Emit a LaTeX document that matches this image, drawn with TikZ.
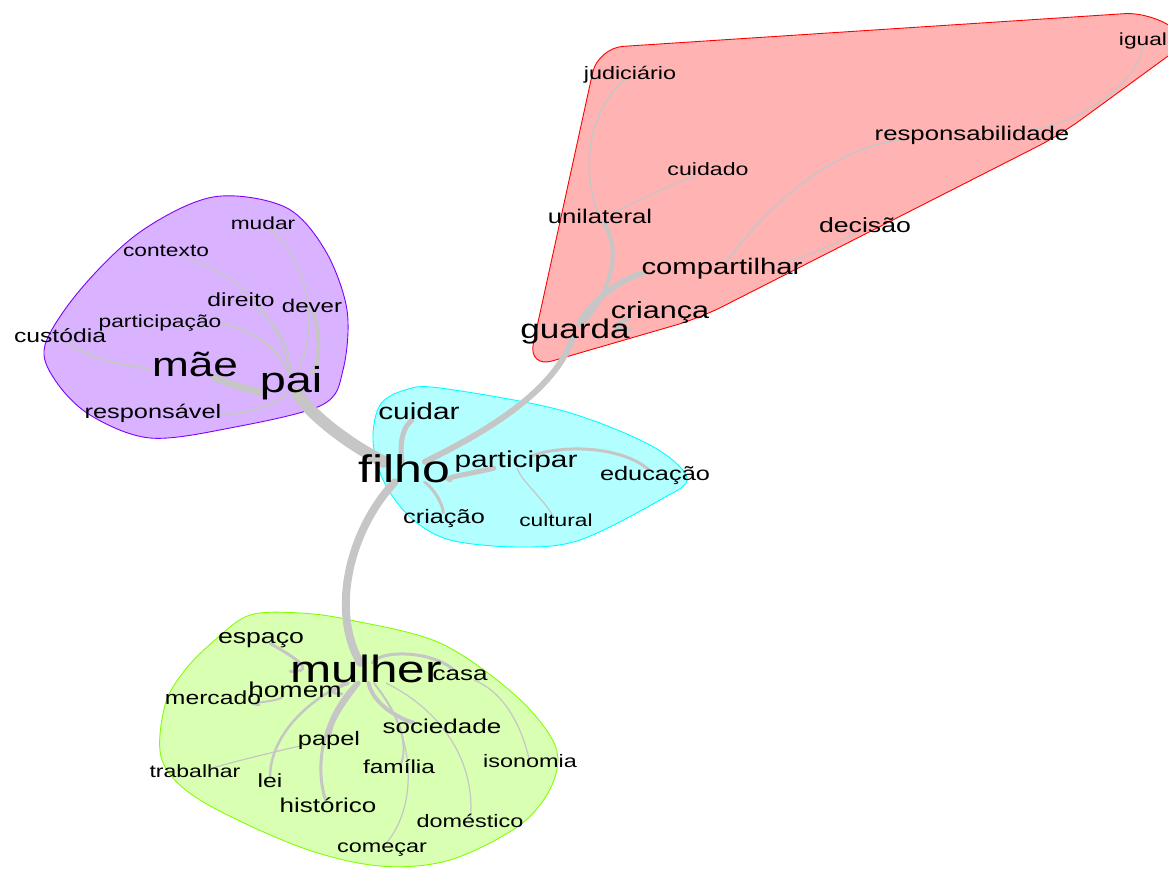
\documentclass[tikz,border=0pt]{standalone}
\usepackage{fontspec}
\setmainfont{Liberation Sans}
\pgfdeclarelayer{hull}
\pgfdeclarelayer{links}
\pgfsetlayers{hull,links,main}
\definecolor{linkgray}{RGB}{198,198,198}
\definecolor{redfill}{RGB}{255,179,179}
\definecolor{redline}{RGB}{255,0,0}
\definecolor{greenfill}{RGB}{217,255,179}
\definecolor{greenline}{RGB}{128,255,0}
\definecolor{cyanfill}{RGB}{179,255,255}
\definecolor{cyanline}{RGB}{0,255,255}
\definecolor{violetfill}{RGB}{217,179,255}
\definecolor{violetline}{RGB}{128,0,255}

\begin{document}
\begin{tikzpicture}[x=1pt,y=-1pt,
	wrd/.style={font=\fontsize{#1}{#1}\selectfont,xscale=1.3,inner sep=0pt,
		text height={0.52*#1pt},text depth=0pt,anchor=center},
	lk/.style={draw=linkgray,line width=#1,line cap=round},
	hull/.style={draw=#1line,fill=#1fill,line width=0.9pt}]
	\useasboundingbox (0,0) rectangle (1168,868);
	\clip (0,0) rectangle (1168,868);

	% pai / mae
	\node[wrd=17.5] (mudar) at (263,225) {mudar};
	\node[wrd=17.5] (contexto) at (166,252) {contexto};
	\node[wrd=19] (direito) at (241,302) {direito};
	\node[wrd=18.5] (dever) at (312,308) {dever};
	\node[wrd=17.5] (participacao) at (160,323) {participação};
	\node[wrd=19] (custodia) at (60,338) {custódia};
	\node[wrd=34] (mae) at (195,368) {mãe};
	\node[wrd=36] (pai) at (291,383) {pai};
	\node[wrd=19.5] (responsavel) at (153,413) {responsável};

	% filho
	\node[wrd=23] (cuidar) at (419,414) {cuidar};
	\node[wrd=38.5] (filho) at (404,472) {filho};
	\node[wrd=23] (participar) at (516,462) {participar};
	\node[wrd=19.5] (educacao) at (655,475) {educação};
	\node[wrd=19.5] (criacao) at (444,518) {criação};
	\node[wrd=17.5] (cultural) at (556,522) {cultural};

	% mulher
	\node[wrd=20.5] (espaco) at (261,638) {espaço};
	\node[wrd=38] (mulher) at (366,673) {mulher};
	\node[wrd=20] (casa) at (460,675) {casa};
	\node[wrd=21.5] (homem) at (295,692) {homem};
	\node[wrd=19] (mercado) at (213,700) {mercado};
	\node[wrd=20] (sociedade) at (442,728) {sociedade};
	\node[wrd=19.5] (papel) at (329,740) {papel};
	\node[wrd=18] (isonomia) at (530,763) {isonomia};
	\node[wrd=18.8] (familia) at (399,769) {família};
	\node[wrd=17.7] (trabalhar) at (195,773) {trabalhar};
	\node[wrd=19] (lei) at (270,783) {lei};
	\node[wrd=20] (historico) at (328,807) {histórico};
	\node[wrd=18] (domestico) at (470,823) {doméstico};
	\node[wrd=18] (comecar) at (382,848) {começar};

	% guarda
	\node[wrd=17.5] (igual) at (1143,41) {igual};
	\node[wrd=18] (judiciario) at (630,75) {judiciário};
	\node[wrd=19.8] (responsabilidade) at (972,135) {responsabilidade};
	\node[wrd=17.8] (cuidado) at (708,171) {cuidado};
	\node[wrd=19.8] (unilateral) at (600,218) {unilateral};
	\node[wrd=20.5] (decisao) at (865,227) {decisão};
	\node[wrd=22.5] (compartilhar) at (722,269) {compartilhar};
	\node[wrd=23.5] (crianca) at (660,312) {criança};
	\node[wrd=27] (guarda) at (575,331) {guarda};

	\begin{pgfonlayer}{hull}
		\draw[hull=violet] plot[smooth cycle,tension=0.55] coordinates {(45,345) (80,290) (140,232) (213,197) (285,207) (325,250) (347,310) (343,370) (322,405) (230,428) (150,438) (90,415) (55,380)};
		\draw[hull=cyan] plot[smooth cycle,tension=0.55] coordinates {(373,440) (380,405) (405,390) (440,388) (560,410) (650,445) (687,478) (660,500) (580,540) (520,547) (450,540) (410,517) (383,480)};
		\draw[hull=green] plot[smooth cycle,tension=0.55] coordinates {(215,640) (250,615) (300,613) (350,620) (440,643) (515,695) (555,745) (552,785) (520,825) (450,860) (380,866) (300,847) (200,800) (162,760) (165,705) (185,670)};
		\draw[hull=red,rounded corners=25pt] (598,48) -- (1150,12) -- (1190,40) -- (1060,135) -- (700,318) -- (528,368) -- cycle;
	\end{pgfonlayer}

	\begin{pgfonlayer}{links}
		% filho
		\draw[lk=12] (filho) .. controls (350,445) and (310,415) .. (pai);
		\draw[lk=8] (filho) .. controls (350,530) and (330,610) .. (mulher);
		\draw[lk=6] (filho) .. controls (490,430) and (555,390) .. (guarda);
		\draw[lk=5] (filho) .. controls (400,450) and (400,430) .. (cuidar);
		\draw[lk=5] (filho) .. controls (440,478) and (480,472) .. (participar);
		\draw[lk=3] (filho) .. controls (430,485) and (442,500) .. (criacao);
		\draw[lk=3] (participar) .. controls (560,445) and (620,445) .. (educacao);
		\draw[lk=1.2] (participar) .. controls (520,480) and (545,500) .. (cultural);
		% pai
		\draw[lk=7] (mae) .. controls (230,385) and (260,392) .. (pai);
		\draw[lk=4] (pai) .. controls (318,370) and (322,340) .. (dever);
		\draw[lk=1.5] (pai) .. controls (290,340) and (270,315) .. (direito);
		\draw[lk=1.5] (pai) .. controls (325,320) and (300,250) .. (mudar);
		\draw[lk=1.5] (pai) .. controls (280,310) and (230,270) .. (contexto);
		\draw[lk=2] (pai) .. controls (280,345) and (240,325) .. (participacao);
		\draw[lk=2] (mae) .. controls (130,368) and (90,358) .. (custodia);
		\draw[lk=2] (pai) .. controls (280,405) and (240,415) .. (responsavel);
		% mulher
		\draw[lk=3] (mulher) .. controls (320,672) and (290,655) .. (espaco);
		\draw[lk=3] (mulher) .. controls (345,685) and (320,693) .. (homem);
		\draw[lk=2] (homem) .. controls (270,703) and (240,703) .. (mercado);
		\draw[lk=3] (mulher) .. controls (380,650) and (430,650) .. (casa);
		\draw[lk=4] (mulher) .. controls (375,710) and (410,722) .. (sociedade);
		\draw[lk=5] (mulher) .. controls (345,700) and (330,720) .. (papel);
		\draw[lk=3] (mulher) .. controls (320,720) and (315,770) .. (historico);
		\draw[lk=2.5] (mulher) .. controls (300,705) and (270,740) .. (lei);
		\draw[lk=1.2] (papel) .. controls (290,748) and (240,760) .. (trabalhar);
		\draw[lk=2] (mulher) .. controls (395,710) and (410,740) .. (familia);
		\draw[lk=1.2] (mulher) .. controls (420,740) and (415,810) .. (comecar);
		\draw[lk=1.2] (mulher) .. controls (450,715) and (475,770) .. (domestico);
		\draw[lk=1.2] (casa) .. controls (500,690) and (520,720) .. (isonomia);
		% guarda
		\draw[lk=6] (guarda) .. controls (595,295) and (630,275) .. (compartilhar);
		\draw[lk=4] (guarda) .. controls (600,330) and (630,318) .. (crianca);
		\draw[lk=4] (guarda) .. controls (605,300) and (625,255) .. (unilateral);
		\draw[lk=1.5] (unilateral) .. controls (580,165) and (590,110) .. (judiciario);
		\draw[lk=1.2] (unilateral) .. controls (630,205) and (670,185) .. (cuidado);
		\draw[lk=1.5] (compartilhar) .. controls (770,200) and (840,145) .. (responsabilidade);
		\draw[lk=1.2] (responsabilidade) .. controls (1080,125) and (1140,80) .. (igual);
		\draw[lk=1.2] (compartilhar) .. controls (790,262) and (830,248) .. (decisao);
	\end{pgfonlayer}
\end{tikzpicture}
\end{document}
